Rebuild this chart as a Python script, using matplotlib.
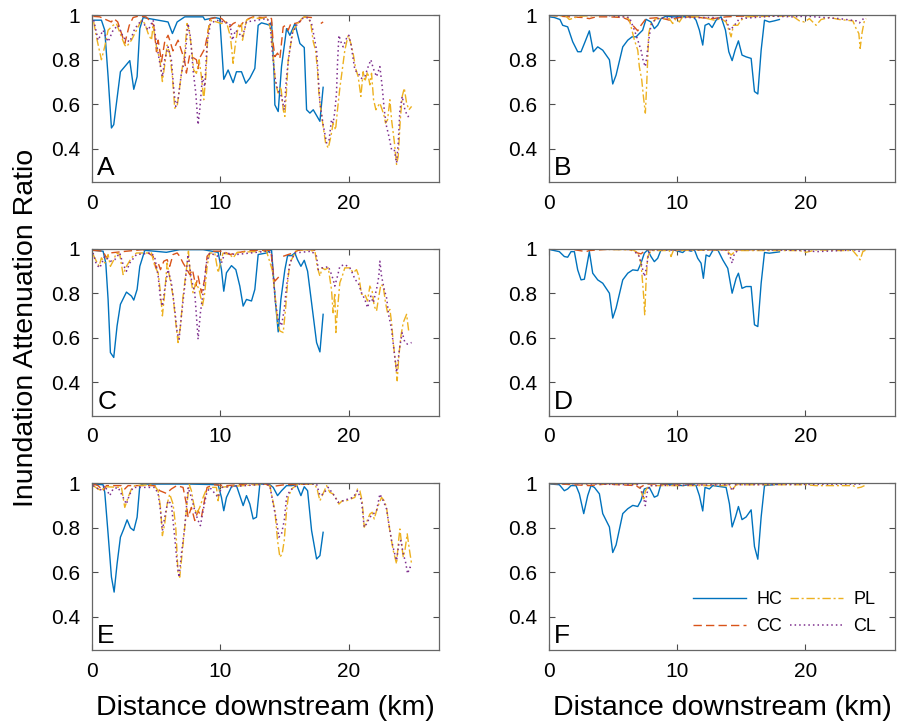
import numpy as np
import matplotlib.pyplot as plt

plt.rcParams['font.family'] = ['Liberation Sans', 'DejaVu Sans']

nan = np.nan

# ---- panel A ----
a_hc_km = [0.0, 0.13, 0.73, 0.99, 1.25, 1.51, 1.69, 2.21, 2.94, 3.25, 3.51, 3.72, 3.98, 5.92, 6.26, 6.63, 7.22,
           8.65, 8.78, 9.56, 9.95, 10.26, 10.6, 10.99, 11.25, 11.64, 11.98, 12.29, 12.68, 12.94, 13.2, 13.59,
           13.85, 13.98, 14.19, 14.24, 14.5, 14.76, 15.15, 15.41, 15.8, 16.19, 16.53, 16.71, 16.97, 17.23,
           17.75, 18.0]
a_hc = [0.975, 0.978, 0.978, 0.933, 0.724, 0.493, 0.508, 0.746, 0.796, 0.667, 0.724, 0.94, 0.99, 0.97, 0.918,
        0.97, 0.993, 0.993, 0.98, 0.99, 0.985, 0.712, 0.754, 0.697, 0.746, 0.746, 0.694, 0.717, 0.761, 0.955,
        0.966, 0.96, 0.955, 0.97, 0.724, 0.597, 0.567, 0.77, 0.94, 0.91, 0.963, 0.873, 0.855, 0.575, 0.56,
        0.575, 0.523, 0.676]
a_cc_km = [0.1, 0.6, 0.9, 1.5, 1.7, 2.0, 2.42, 2.55, 2.9, 3.2, 3.6, 4.2, 4.6, 4.8, 5.02, 5.15, 5.41, 5.66, 5.92,
           6.05, 6.3, 6.7, 6.95, 7.2, 7.35, 7.6, 8.13, 8.26, 8.4, 8.78, 8.96, 9.2, 9.7, 10.1, 10.47, 10.73,
           11.0, 11.25, 11.51, 11.8, 12.2, 12.55, 13.3, 13.72, 13.98, 14.11, 14.24, 14.45, 14.63, 14.89, 15.07,
           15.28, 15.49, 15.8, 16.19, 16.45, 17.1, 17.3, 17.5, 17.82, 18.0]
a_cc = [0.995, 0.993, 0.985, 0.97, 0.985, 0.97, 0.896, 0.873, 0.955, 0.99, 0.996, 0.993, 0.97, 0.955, 0.836,
        0.888, 0.791, 0.881, 0.91, 0.888, 0.84, 0.888, 0.843, 0.8, 0.74, 0.82, 0.8, 0.76, 0.81, 0.85, 0.903,
        0.985, 0.99, 0.985, 0.963, 0.948, 0.963, 0.97, 0.948, 0.97, 0.985, 0.993, 0.99, 0.993, 0.985, 0.873,
        0.814, 0.83, 0.806, 0.948, 0.955, 0.933, 0.963, 0.963, 0.97, 0.993, 0.99, 0.995, nan, 0.963, 0.97]
a_pl_km = [0.13, 0.34, 0.73, 0.99, 1.25, 1.64, 1.9, 2.29, 2.55, 2.68, 3.07, 3.46, 3.85, 4.11, 4.37, 4.63, 4.75,
           5.02, 5.28, 5.48, 5.66, 5.85, 6.05, 6.26, 6.44, 6.63, 6.83, 7.04, 7.22, 7.4, 7.56, 7.74, 7.92, 8.13,
           8.34, 8.52, 8.7, 8.86, 9.04, 9.3, 9.69, 10.08, 10.47, 10.78, 10.99, 11.17, 11.38, 11.64, 11.72,
           12.03, 12.55, 13.07, 13.59, 13.72, 13.93, 14.11, 14.29, 14.5, 14.71, 14.89, 15.02, 15.15, 15.28,
           15.49, 15.67, 15.93, 16.19, 16.53, 16.84, 17.04, 17.23, 17.41, 17.56, 17.67, 17.82, 18.0, 18.19,
           18.4, 18.6, 18.78, 18.97, 19.12, 19.3, 19.49, 19.69, 19.95, 20.16, 20.34, 20.53, 20.73, 20.94,
           21.12, 21.25, 21.46, 21.64, 21.77, 21.93, 22.11, 22.42, 22.6, 22.76, 22.86, 23.02, 23.2, 23.33,
           23.54, 23.72, 23.85, 24.01, 24.16, 24.32, 24.5, 24.68, 24.89]
a_pl = [0.97, 0.903, 0.8, 0.86, 0.933, 0.955, 0.963, 0.903, 0.866, 0.858, 0.888, 0.933, 0.978, 0.963, 0.918,
        0.888, 0.955, 0.858, 0.8, 0.702, 0.776, 0.866, 0.828, 0.724, 0.582, 0.59, 0.679, 0.769, 0.828, 0.963,
        0.933, 0.858, 0.754, 0.739, 0.8, 0.724, 0.62, 0.724, 0.933, 0.978, 0.97, 0.963, 0.97, 0.903, 0.784,
        0.873, 0.948, 0.963, 0.888, 0.978, 0.99, 0.985, 0.99, 0.978, 0.933, 0.814, 0.694, 0.65, 0.679, 0.575,
        0.545, 0.664, 0.799, 0.873, 0.933, 0.955, 0.978, 0.993, 0.99, 0.963, 0.881, 0.843, 0.754, 0.65,
        0.575, 0.5, 0.426, 0.403, 0.454, 0.514, 0.485, 0.575, 0.672, 0.754, 0.843, 0.91, 0.873, 0.828, 0.761,
        0.724, 0.635, 0.746, 0.702, 0.746, 0.687, 0.739, 0.62, 0.575, 0.605, 0.575, 0.545, 0.515, 0.53, 0.62,
        0.53, 0.433, 0.329, 0.366, 0.53, 0.635, 0.672, 0.605, 0.575, 0.59]
a_cl_km = [0.13, 0.47, 0.86, 1.25, 1.64, 2.03, 2.42, 2.68, 2.94, 3.33, 3.85, 4.37, 4.76, 5.02, 5.28, 5.48,
           5.66, 5.92, 6.18, 6.37, 6.52, 6.7, 6.96, 7.22, 7.48, 7.66, 7.87, 8.08, 8.26, 8.39, 8.6, 8.78, 8.96,
           9.22, 9.69, 10.73, 10.94, 11.17, 11.72, 12.03, 13.59, 13.85, 14.03, 14.24, 14.45, 14.76, 14.97,
           15.15, 15.33, 15.59, 15.93, 16.32, 16.84, 17.1, 17.3, 17.49, 17.62, 17.75, 18.0, 18.27, 18.45,
           18.65, 18.78, 18.91, 19.04, 19.12, 19.23, 19.38, 19.56, 19.82, 20.0, 20.16, 20.47, 20.73, 20.99,
           21.25, 21.51, 21.72, 21.9, 22.16, 22.42, 22.6, 22.76, 22.94, 23.12, 23.33, 23.54, 23.72, 23.85,
           23.98, 24.16, 24.37, 24.58, 24.84]
a_cl = [0.978, 0.888, 0.933, 0.881, 0.933, 0.955, 0.903, 0.888, 0.881, 0.94, 0.978, 0.933, 0.978, 0.873,
        0.784, 0.724, 0.799, 0.858, 0.799, 0.664, 0.59, 0.62, 0.739, 0.799, 0.963, 0.903, 0.754, 0.65, 0.508,
        0.575, 0.724, 0.679, 0.873, 0.963, 0.978, 0.963, 0.888, 0.933, 0.903, 0.97, 0.985, 0.97, 0.843, 0.724,
        0.664, 0.635, 0.575, 0.724, 0.814, 0.918, 0.955, 0.985, 0.99, 0.963, 0.903, 0.843, 0.724, 0.605,
        0.508, 0.426, 0.433, 0.53, 0.515, 0.567, 0.65, 0.784, 0.91, 0.881, 0.858, 0.896, 0.91, 0.873, 0.754,
        0.739, 0.716, 0.724, 0.769, 0.8, 0.762, 0.724, 0.769, 0.679, 0.575, 0.5, 0.456, 0.396, 0.396, 0.336,
        0.426, 0.575, 0.635, 0.575, 0.545, 0.545]

# ---- panel B ----
b_hc_km = [0.05, 0.44, 0.88, 1.09, 1.48, 1.87, 2.26, 2.52, 2.78, 3.17, 3.48, 3.82, 4.21, 4.73, 4.99, 5.25, 5.77,
           6.16, 6.49, 6.81, 7.06, 7.32, 7.58, 7.97, 8.23, 8.49, 8.75, 9.14, 9.66, 10.44, 11.22, 11.48, 11.74,
           12.0, 12.18, 12.47, 12.73, 13.04, 13.43, 13.77, 14.03, 14.29, 14.52, 14.78, 15.06, 15.38, 15.77,
           16.03, 16.29, 16.55, 16.81, 17.19, 17.58, 17.97]
b_hc = [0.993, 0.99, 0.981, 0.955, 0.948, 0.881, 0.836, 0.836, 0.873, 0.93, 0.836, 0.858, 0.843, 0.8, 0.691,
        0.731, 0.858, 0.888, 0.903, 0.903, 0.918, 0.933, 0.982, 0.97, 0.94, 0.955, 0.985, 0.996, 0.993, 0.993,
        0.996, 0.978, 0.933, 0.866, 0.955, 0.963, 0.945, 0.978, 0.993, 0.933, 0.836, 0.796, 0.843, 0.885,
        0.821, 0.813, 0.806, 0.657, 0.646, 0.843, 0.978, 0.97, 0.975, 0.981]
b_cc_km = [0.05, 0.83, 1.61, 2.65, 3.17, 3.69, 4.73, 5.77, 6.16, 6.55, 6.94, 7.19, 7.58, 8.62, 9.4, 9.79, 10.18,
           10.7, 11.74, 12.78, 13.82, 14.86, 17.45]
b_cc = [1.0, 0.996, 0.993, 0.99, 0.985, 0.993, 0.993, 0.99, 0.981, 0.955, 0.93, 0.955, 0.985, 0.99, 0.978,
        0.985, 0.99, 0.993, 0.99, 0.985, 0.993, 0.996, 0.996]
b_pl_km = [0.05, 1.35, 1.61, 2.39, 4.47, 6.03, 6.29, 6.68, 6.94, 7.06, 7.25, 7.38, 7.53, 7.64, 7.79, 7.97, 8.36,
           9.4, 9.66, 9.92, 10.18, 10.44, 11.74, 12.91, 13.43, 13.82, 14.21, 14.39, 14.73, 14.99, 15.38, 17.45,
           19.01, 19.53, 19.92, 20.31, 20.83, 21.22, 21.87, 22.65, 23.17, 23.69, 23.95, 24.16, 24.26, 24.42,
           24.6, 24.73]
b_pl = [1.0, 0.996, 0.981, 0.996, 1.0, 0.996, 0.978, 0.888, 0.843, 0.769, 0.709, 0.634, 0.56, 0.694, 0.918,
        0.963, 0.985, 0.985, 0.963, 0.985, 0.97, 0.993, 0.993, 0.978, 0.985, 0.97, 0.903, 0.955, 0.955, 0.978,
        0.993, 0.996, 0.996, 0.975, 0.97, 0.985, 0.955, 0.981, 0.99, 0.981, 0.978, 0.975, 0.94, 0.918, 0.851,
        0.925, 0.978, 0.985]
b_cl_km = [0.05, 4.47, 6.29, 6.68, 6.94, 7.19, 7.38, 7.53, 7.64, 7.79, 7.97, 8.36, 9.66, 12.78, 13.82, 14.13,
           14.47, 14.86, 17.45, 19.01, 20.05, 22.65, 23.95, 24.21, 24.6]
b_cl = [1.0, 1.0, 0.99, 0.933, 0.888, 0.843, 0.791, 0.769, 0.813, 0.888, 0.955, 0.985, 0.99, 0.99, 0.978, 0.933,
        0.955, 0.985, 0.996, 0.993, 0.996, 0.985, 0.975, 0.966, 0.99]

# ---- panel C ----
c_hc_km = [0.08, 0.86, 1.07, 1.25, 1.43, 1.69, 1.95, 2.21, 2.68, 3.07, 3.25, 3.51, 3.72, 4.11, 5.79, 6.83, 8.65,
           9.82, 10.08, 10.26, 10.47, 10.86, 11.2, 11.51, 11.77, 12.03, 12.42, 12.68, 12.94, 13.59, 13.98,
           14.11, 14.29, 14.5, 14.71, 15.02, 15.23, 15.54, 15.8, 16.0, 16.27, 16.53, 16.79, 17.1, 17.49, 17.75,
           18.0]
c_hc = [0.994, 0.99, 0.937, 0.773, 0.534, 0.512, 0.654, 0.751, 0.806, 0.788, 0.77, 0.818, 0.922, 0.994, 0.985,
        0.997, 0.997, 0.985, 0.907, 0.81, 0.893, 0.925, 0.907, 0.833, 0.743, 0.773, 0.766, 0.818, 0.975, 0.982,
        0.997, 0.893, 0.758, 0.627, 0.773, 0.907, 0.97, 0.97, 0.982, 0.952, 0.922, 0.949, 0.9, 0.758, 0.579,
        0.537, 0.706]
c_cc_km = [0.08, 0.86, 1.12, 1.38, 2.68, 3.98, 4.76, 4.96, 5.15, 5.33, 5.59, 5.85, 6.05, 6.31, 6.63, 6.83,
           7.09, 7.4, 7.61, 7.82, 8.08, 8.26, 8.52, 8.78, 8.96, 9.3, 10.21, 10.73, 11.25, 12.29, 13.59, 13.93,
           14.11, 14.24, 14.71, 14.8, 14.89, 15.28, 15.67, 16.06, 16.84, 17.49]
c_cc = [0.994, 0.99, 0.96, 0.982, 0.99, 0.997, 0.967, 0.915, 0.937, 0.907, 0.945, 0.952, 0.922, 0.975, 0.982,
        0.967, 0.937, 0.907, 0.885, 0.907, 0.833, 0.878, 0.803, 0.863, 0.967, 0.99, 0.99, 0.975, 0.982, 0.994,
        0.994, 0.994, 0.893, 0.855, 0.885, nan, 0.967, 0.975, 0.982, 0.994, 0.997, 0.994]
c_pl_km = [0.08, 0.34, 0.55, 0.73, 0.99, 1.25, 1.43, 1.64, 1.9, 2.16, 2.42, 2.68, 3.07, 3.46, 4.63, 4.89, 5.15,
           5.33, 5.48, 5.66, 5.85, 6.05, 6.31, 6.52, 6.7, 6.89, 7.09, 7.35, 7.51, 7.66, 7.87, 8.08, 8.34, 8.6,
           8.78, 8.96, 9.17, 9.56, 9.82, 10.0, 10.21, 10.73, 10.99, 11.3, 13.59, 14.03, 14.24, 14.45, 14.63,
           14.89, 15.07, 15.23, 15.41, 15.67, 15.93, 16.58, 17.36, 17.56, 17.75, 17.93, 18.14, 18.4, 18.65,
           18.78, 18.91, 18.99, 19.12, 19.3, 19.49, 19.69, 20.08, 20.34, 20.6, 20.78, 20.99, 21.25, 21.46,
           21.64, 21.82, 21.98, 22.16, 22.34, 22.5, 22.68, 22.86, 23.02, 23.2, 23.33, 23.46, 23.64, 23.77,
           23.9, 24.06, 24.24, 24.5, 24.68]
c_pl = [0.975, 0.945, 0.922, 0.96, 0.937, 0.975, 0.922, 0.945, 0.982, 0.975, 0.885, 0.922, 0.96, 0.982, 0.982,
        0.922, 0.893, 0.803, 0.699, 0.803, 0.937, 0.87, 0.788, 0.669, 0.579, 0.654, 0.788, 0.907, 0.99, 0.878,
        0.803, 0.848, 0.818, 0.743, 0.803, 0.922, 0.982, 0.982, 0.893, 0.937, 0.982, 0.975, 0.96, 0.985, 0.99,
        0.907, 0.803, 0.669, 0.631, 0.624, 0.728, 0.848, 0.937, 0.967, 0.994, 0.997, 0.99, 0.915, 0.878,
        0.915, 0.907, 0.915, 0.818, 0.713, 0.803, 0.624, 0.728, 0.848, 0.878, 0.915, 0.915, 0.893, 0.907,
        0.878, 0.796, 0.796, 0.766, 0.833, 0.81, 0.743, 0.721, 0.788, 0.84, 0.833, 0.758, 0.713, 0.728, 0.669,
        0.579, 0.49, 0.407, 0.52, 0.609, 0.669, 0.706, 0.624]
c_cl_km = [0.08, 0.34, 0.6, 0.99, 1.43, 1.77, 2.16, 2.42, 2.68, 2.94, 3.46, 4.63, 4.89, 5.15, 5.33, 5.48, 5.66,
           5.92, 6.18, 6.44, 6.63, 6.78, 6.96, 7.22, 7.48, 7.74, 8.0, 8.13, 8.26, 8.44, 8.65, 8.91, 9.17, 9.82,
           10.08, 10.34, 11.25, 13.59, 13.98, 14.11, 14.29, 14.5, 14.76, 14.97, 15.15, 15.41, 15.8, 17.1, 17.49,
           17.62, 17.88, 18.14, 18.4, 18.6, 18.78, 18.91, 19.12, 19.3, 19.69, 20.08, 20.34, 20.47, 20.73, 20.99,
           21.25, 21.46, 21.72, 21.9, 22.16, 22.34, 22.42, 22.55, 22.76, 22.94, 23.12, 23.33, 23.54, 23.72,
           23.85, 23.98, 24.16, 24.37, 24.58, 24.89]
c_cl = [0.982, 0.93, 0.915, 0.967, 0.945, 0.952, 0.982, 0.93, 0.9, 0.937, 0.975, 0.982, 0.96, 0.878, 0.773,
        0.743, 0.818, 0.907, 0.848, 0.728, 0.624, 0.594, 0.699, 0.833, 0.975, 0.863, 0.803, 0.699, 0.594,
        0.713, 0.803, 0.937, 0.982, 0.967, 0.937, 0.982, 0.975, 0.99, 0.982, 0.878, 0.758, 0.684, 0.654, 0.728,
        0.833, 0.937, 0.982, 0.99, 0.967, 0.907, 0.915, 0.915, 0.922, 0.893, 0.863, 0.833, 0.878, 0.922, 0.93,
        0.915, 0.885, 0.863, 0.848, 0.803, 0.773, 0.736, 0.788, 0.758, 0.818, 0.878, 0.945, 0.878, 0.818,
        0.781, 0.699, 0.639, 0.534, 0.445, 0.504, 0.564, 0.624, 0.579, 0.572, 0.579]

# ---- panel D ----
d_hc_km = [0.18, 0.83, 1.22, 1.48, 1.74, 2.0, 2.26, 2.52, 2.78, 3.17, 3.43, 3.82, 4.21, 4.73, 4.99, 5.25, 5.77,
           6.16, 6.55, 6.94, 7.19, 7.45, 7.71, 7.97, 8.23, 8.49, 8.75, 9.66, 10.44, 10.7, 11.09, 11.35, 11.61,
           11.87, 12.05, 12.26, 12.52, 12.78, 13.17, 13.56, 13.95, 14.29, 14.6, 14.78, 15.06, 15.38, 15.77,
           16.03, 16.29, 16.55, 16.81, 17.19, 17.58, 17.97]
d_hc = [0.996, 0.988, 0.966, 0.963, 0.988, 0.988, 0.906, 0.861, 0.864, 0.988, 0.891, 0.861, 0.846, 0.801,
        0.689, 0.734, 0.861, 0.891, 0.906, 0.903, 0.936, 0.981, 0.996, 0.966, 0.943, 0.958, 0.996, 0.997,
        0.984, 0.997, 0.99, 0.997, 0.958, 0.936, 0.868, 0.973, 0.966, 0.993, 0.996, 0.951, 0.913, 0.801, 0.868,
        0.891, 0.823, 0.831, 0.831, 0.659, 0.651, 0.846, 0.984, 0.981, 0.984, 0.987]
d_cc_km = [0.05, 1.87, 2.91, 3.17, 4.47, 6.29, 6.81, 7.19, 7.58, 10.18, 14.34, 17.45]
d_cc = [1.0, 0.998, 0.988, 0.993, 0.998, 0.998, 0.984, 0.978, 0.996, 0.996, 0.996, 0.998]
d_pl_km = [0.05, 4.47, 6.55, 6.94, 7.19, 7.32, 7.4, 7.48, 7.58, 7.71, 7.97, 9.4, 9.53, 9.71, 13.82, 14.21, 14.6,
           19.53, 20.05, 20.83, 22.65, 23.69, 24.08, 24.26, 24.47, 24.7]
d_pl = [1.0, 0.998, 0.996, 0.984, 0.936, 0.846, 0.786, 0.704, 0.846, 0.966, 0.993, 0.993, 0.966, 0.993, 0.996,
        0.973, 0.993, 0.993, 0.985, 0.996, 0.993, 0.993, 0.966, 0.951, 0.988, 0.995]
d_cl_km = [0.05, 6.55, 7.06, 7.27, 7.45, 7.58, 7.79, 8.1, 13.82, 14.13, 14.29, 14.47, 14.86, 20.05, 20.83,
           23.95, 24.26, 24.47]
d_cl = [1.0, 0.998, 0.966, 0.921, 0.876, 0.906, 0.981, 0.996, 0.996, 0.966, 0.936, 0.981, 0.998, 0.993, 0.988,
        0.996, 0.988, 0.998]

# ---- panel E ----
e_hc_km = [0.08, 0.86, 0.99, 1.25, 1.51, 1.72, 1.95, 2.21, 2.47, 2.73, 2.99, 3.25, 3.51, 3.72, 3.98, 7.6, 9.82,
           10.08, 10.26, 10.47, 10.86, 11.25, 11.51, 11.77, 12.03, 12.29, 12.55, 12.81, 13.07, 13.59, 13.85,
           14.11, 14.45, 14.76, 15.15, 15.54, 15.93, 16.27, 16.53, 16.79, 17.1, 17.49, 17.75, 18.0]
e_hc = [0.997, 0.994, 0.96, 0.773, 0.579, 0.511, 0.638, 0.758, 0.795, 0.836, 0.8, 0.788, 0.848, 0.99, 0.997,
        0.997, 0.994, 0.937, 0.877, 0.937, 0.985, 0.99, 0.945, 0.9, 0.945, 0.907, 0.84, 0.848, 0.997, 0.997,
        0.994, 0.982, 0.945, 0.967, 0.99, 0.99, 0.994, 0.945, 0.985, 0.967, 0.788, 0.66, 0.675, 0.78]
e_cc_km = [0.1, 0.47, 0.86, 1.12, 2.29, 2.55, 2.81, 4.89, 5.28, 5.79, 6.18, 6.6, 7.09, 7.35, 7.48, 7.74, 8.0,
           8.26, 8.52, 8.78, 8.96, 9.5, 10.5, 12.0, 13.5, 14.0, 14.5, 15.0, 17.1]
e_cc = [0.997, 0.99, 0.967, 0.99, 0.99, 0.975, 0.99, 0.99, 0.967, 0.955, 0.975, 0.99, 0.982, 0.907, 0.848,
        0.892, 0.833, 0.877, 0.848, 0.93, 0.982, 0.994, 0.99, 0.997, 0.997, 0.985, 0.99, 0.994, 0.997]
e_pl_km = [0.08, 0.47, 0.73, 0.99, 2.29, 2.42, 2.55, 2.81, 3.07, 3.33, 4.67, 4.96, 5.15, 5.33, 5.48, 5.66, 5.85,
           6.05, 6.31, 6.52, 6.7, 6.83, 7.04, 7.22, 7.4, 7.56, 7.74, 7.92, 8.13, 8.39, 8.65, 8.86, 9.17, 9.69,
           9.82, 9.95, 10.47, 13.59, 13.85, 14.03, 14.24, 14.45, 14.63, 14.81, 14.97, 15.15, 15.28, 15.54,
           16.06, 17.36, 17.56, 17.75, 17.93, 18.27, 18.52, 18.78, 19.04, 19.23, 19.49, 19.82, 20.16, 20.47,
           20.68, 20.86, 21.04, 21.2, 21.38, 21.64, 21.82, 21.98, 22.16, 22.34, 22.55, 22.76, 22.94, 23.07,
           23.28, 23.46, 23.72, 23.85, 23.98, 24.11, 24.24, 24.37, 24.55, 24.71, 24.89]
e_pl = [0.99, 0.975, 0.967, 0.985, 0.982, 0.937, 0.892, 0.937, 0.975, 0.99, 0.994, 0.982, 0.967, 0.892, 0.765,
        0.818, 0.907, 0.952, 0.907, 0.803, 0.593, 0.578, 0.698, 0.803, 0.907, 0.997, 0.967, 0.907, 0.862, 0.892,
        0.937, 0.967, 0.982, 0.982, 0.922, 0.982, 0.985, 0.997, 0.99, 0.937, 0.877, 0.743, 0.668, 0.683, 0.743,
        0.877, 0.937, 0.975, 0.997, 0.997, 0.967, 0.922, 0.945, 0.99, 0.96, 0.952, 0.93, 0.907, 0.922, 0.922,
        0.93, 0.937, 0.975, 0.967, 0.922, 0.803, 0.825, 0.862, 0.87, 0.84, 0.877, 0.907, 0.937, 0.922, 0.892,
        0.833, 0.758, 0.698, 0.638, 0.728, 0.795, 0.728, 0.668, 0.698, 0.773, 0.706, 0.638]
e_cl_km = [0.08, 0.34, 0.6, 0.99, 1.38, 1.64, 2.03, 2.42, 2.68, 2.89, 3.2, 4.89, 5.15, 5.33, 5.48, 5.66, 5.92,
           6.18, 6.44, 6.63, 6.78, 6.96, 7.22, 7.48, 7.74, 8.0, 8.26, 8.44, 8.65, 8.91, 9.17, 9.82, 10.08,
           13.59, 13.85, 14.11, 14.37, 14.55, 14.76, 14.97, 15.15, 15.41, 16.06, 17.49, 17.75, 18.0, 18.4,
           18.78, 19.17, 19.56, 19.95, 20.34, 20.68, 20.99, 21.2, 21.38, 21.64, 21.9, 22.16, 22.42, 22.68,
           22.94, 23.12, 23.33, 23.54, 23.72, 23.9, 24.06, 24.24, 24.42, 24.58, 24.76, 24.89]
e_cl = [0.99, 0.982, 0.967, 0.99, 0.945, 0.975, 0.982, 0.937, 0.907, 0.945, 0.982, 0.982, 0.952, 0.877, 0.788,
        0.848, 0.922, 0.907, 0.758, 0.638, 0.578, 0.683, 0.803, 0.982, 0.937, 0.877, 0.833, 0.81, 0.877, 0.952,
        0.982, 0.937, 0.982, 0.997, 0.99, 0.907, 0.833, 0.758, 0.773, 0.833, 0.937, 0.967, 0.997, 0.997, 0.945,
        0.952, 0.982, 0.952, 0.915, 0.922, 0.93, 0.937, 0.967, 0.922, 0.803, 0.818, 0.848, 0.862, 0.877, 0.952,
        0.922, 0.885, 0.818, 0.743, 0.691, 0.653, 0.728, 0.743, 0.683, 0.646, 0.594, 0.623, 0.616]

# ---- panel F ----
f_hc_km = [0.18, 0.83, 1.22, 1.48, 1.74, 2.13, 2.39, 2.73, 3.04, 3.3, 3.56, 3.95, 4.21, 4.73, 4.99, 5.25, 5.77,
           6.16, 6.55, 6.94, 7.19, 7.45, 7.84, 8.23, 8.49, 8.75, 10.44, 11.22, 11.48, 11.74, 12.0, 12.18, 12.52,
           12.78, 13.82, 14.08, 14.29, 14.55, 14.78, 15.06, 15.38, 15.77, 16.03, 16.29, 16.55, 16.81, 17.97]
f_hc = [0.997, 0.994, 0.967, 0.975, 0.99, 0.99, 0.953, 0.864, 0.945, 0.99, 0.982, 0.953, 0.864, 0.804, 0.689,
        0.723, 0.864, 0.886, 0.901, 0.896, 0.923, 0.975, 0.982, 0.938, 0.945, 0.997, 0.99, 0.997, 0.99, 0.945,
        0.876, 0.982, 0.975, 0.99, 0.982, 0.908, 0.804, 0.849, 0.896, 0.837, 0.849, 0.881, 0.716, 0.659, 0.849,
        0.99, 0.997]
f_cc_km = [0.05, 3.17, 4.47, 6.81, 7.06, 7.58, 17.45]
f_cc = [1.0, 0.99, 0.997, 0.99, 0.98, 0.997, 0.999]
f_pl_km = [0.05, 6.81, 7.06, 7.27, 7.4, 7.53, 7.84, 14.08, 14.29, 14.6, 20.05, 20.83, 23.69, 24.08, 24.34, 24.6]
f_pl = [1.0, 0.997, 0.985, 0.953, 0.923, 0.967, 0.99, 0.99, 0.97, 0.994, 0.994, 0.99, 0.99, 0.98, 0.983, 0.99]
f_cl_km = [0.05, 6.94, 7.19, 7.38, 7.53, 7.64, 7.84, 14.08, 14.29, 14.55, 24.47]
f_cl = [1.0, 0.994, 0.975, 0.938, 0.9, 0.953, 0.99, 0.994, 0.967, 0.994, 0.997]

panels = [
    ('A', a_hc_km, a_hc, a_cc_km, a_cc, a_pl_km, a_pl, a_cl_km, a_cl),
    ('B', b_hc_km, b_hc, b_cc_km, b_cc, b_pl_km, b_pl, b_cl_km, b_cl),
    ('C', c_hc_km, c_hc, c_cc_km, c_cc, c_pl_km, c_pl, c_cl_km, c_cl),
    ('D', d_hc_km, d_hc, d_cc_km, d_cc, d_pl_km, d_pl, d_cl_km, d_cl),
    ('E', e_hc_km, e_hc, e_cc_km, e_cc, e_pl_km, e_pl, e_cl_km, e_cl),
    ('F', f_hc_km, f_hc, f_cc_km, f_cc, f_pl_km, f_pl, f_cl_km, f_cl),
]

# MATLAB default line colours
C_HC = '#0072BD'
C_CC = '#D95319'
C_PL = '#EDB120'
C_CL = '#7E2F8E'

fig = plt.figure(figsize=(8.98, 7.28), dpi=100)
lefts = [0.1025, 0.611]
bottoms = [0.75, 0.429, 0.107]

for i, (letter, hx, hy, cx, cy, px, py, lx, ly) in enumerate(panels):
    row, col = divmod(i, 2)
    ax = fig.add_axes([lefts[col], bottoms[row], 0.386, 0.229])
    ax.plot(hx, hy, color=C_HC, lw=1.0, ls='-', label='HC')
    ax.plot(cx, cy, color=C_CC, lw=1.0, ls=(0, (6, 3)), label='CC')
    ax.plot(px, py, color=C_PL, lw=1.0, ls=(0, (6, 2, 1.5, 2)), label='PL')
    ax.plot(lx, ly, color=C_CL, lw=1.1, ls=(0, (1, 2)), label='CL')
    ax.set_xlim(0, 27)
    ax.set_ylim(0.25, 1.0)
    ax.set_xticks([0, 10, 20])
    ax.set_yticks([0.4, 0.6, 0.8, 1.0])
    ax.set_yticklabels(['0.4', '0.6', '0.8', '1'])
    ax.tick_params(direction='in', top=True, right=True, length=4, width=0.8,
                   labelsize=15, color='0.3', labelcolor='k', pad=8.5)
    for sp in ax.spines.values():
        sp.set_color('0.4')
        sp.set_linewidth(0.9)
    ax.text(0.015, 0.01, letter, transform=ax.transAxes, ha='left', va='bottom', fontsize=19)
    if row == 2:
        ax.set_xlabel('Distance downstream (km)', fontsize=20.5, labelpad=10)
    if letter == 'F':
        ax.legend(ncol=2, frameon=False, fontsize=13, loc='upper left',
                  bbox_to_anchor=(0.37, 0.45), handlelength=2.9, columnspacing=0.45,
                  handletextpad=0.6, labelspacing=0.55)

fig.text(0.029, 0.55, 'Inundation Attenuation Ratio', rotation=90, ha='center', va='center', fontsize=20.5)

fig.savefig('out.png', dpi=100)
